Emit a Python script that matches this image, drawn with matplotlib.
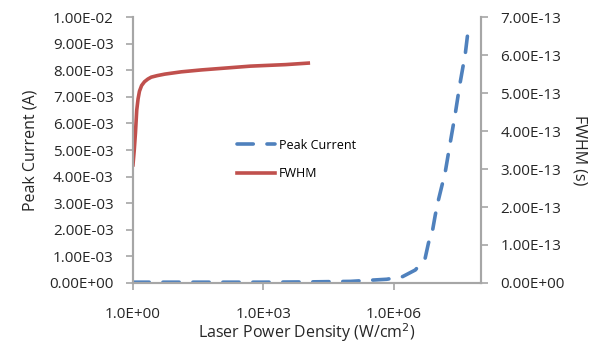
import matplotlib
matplotlib.use("Agg")
import matplotlib.pyplot as plt
from matplotlib.ticker import FuncFormatter

plt.rcParams['font.family'] = ['Open Sans', 'DejaVu Sans']

# peak current (left axis)
pc_x = [1, 10, 100, 1e3, 1e4, 1e5, 6.8e5, 1.58e6, 3.1e6, 5.2e6, 6.2e6, 7.8e6,
        8.9e6, 1.05e7, 1.51e7, 1.95e7, 2.57e7, 3.24e7, 4.37e7, 4.9e7]
pc_y = [0.03e-3, 0.03e-3, 0.03e-3, 0.03e-3, 0.04e-3, 0.06e-3, 0.14e-3, 0.24e-3,
        0.49e-3, 0.93e-3, 1.5e-3, 2.03e-3, 2.56e-3, 3.12e-3, 4.18e-3, 5.25e-3,
        6.38e-3, 7.44e-3, 8.64e-3, 9.32e-3]

# FWHM (right axis)
fw_x = [1, 1.07, 1.14, 1.22, 1.31, 1.41, 1.58, 1.84, 2.2, 2.63, 3.6, 5.4, 12.9,
        37, 500, 3200, 10700]
fw_y = [3.11e-13, 3.50e-13, 3.95e-13, 4.55e-13, 4.85e-13, 5.05e-13, 5.20e-13,
        5.30e-13, 5.37e-13, 5.42e-13, 5.46e-13, 5.50e-13, 5.56e-13, 5.61e-13,
        5.71e-13, 5.75e-13, 5.79e-13]

xticks = [1, 1e3, 1e6]
blue = '#4F81BD'
red = '#C0504D'
grey = '#A6A6A6'
txt = '#262626'

fig = plt.figure(figsize=(5.99, 3.43), dpi=100)
ax = fig.add_axes([0.222, 0.175, 0.581, 0.775])
ax2 = ax.twinx()

l1, = ax.plot(pc_x, pc_y, color=blue, lw=2.6, ls=(0, (4.5, 3.8)),
              dash_capstyle='round', label='Peak Current')
l2, = ax2.plot(fw_x, fw_y, color=red, lw=2.6, label='FWHM')

ax.set_xscale('log')
ax.set_xlim(1, 1e8)
ax.set_xticks(xticks)
ax.minorticks_off()
ax.xaxis.set_major_formatter(FuncFormatter(lambda v, p: f"{v:.1E}"))

ax.set_ylim(0, 1e-2)
ax.set_yticks([i * 1e-3 for i in range(11)])
ax.yaxis.set_major_formatter(FuncFormatter(lambda v, p: f"{v:.2E}"))
ax2.set_ylim(0, 7e-13)
ax2.set_yticks([i * 1e-13 for i in range(8)])
ax2.yaxis.set_major_formatter(FuncFormatter(lambda v, p: f"{v:.2E}"))

for a in (ax, ax2):
    a.spines['top'].set_visible(False)
    for s in ('left', 'right', 'bottom'):
        a.spines[s].set_color(grey)
        a.spines[s].set_linewidth(1.5)
    a.tick_params(colors=grey, labelcolor=txt, labelsize=11,
                  length=5, width=1.2, pad=9)
ax.tick_params(axis='x', pad=12)

ax.set_xlabel('Laser Power Density (W/cm$^2$)', fontsize=11.5, color=txt, labelpad=0)
ax.set_ylabel('Peak Current (A)', fontsize=11.5, color=txt, labelpad=8)
ax2.set_ylabel('FWHM (s)', fontsize=11.5, color=txt, rotation=270, labelpad=16)

ax.legend([l1, l2], ['Peak Current', 'FWHM'], loc='center', frameon=False,
          bbox_to_anchor=(0.47, 0.465), fontsize=9, handlelength=3.0,
          labelspacing=1.25, handletextpad=0.3)

fig.savefig('out.png', dpi=100)
